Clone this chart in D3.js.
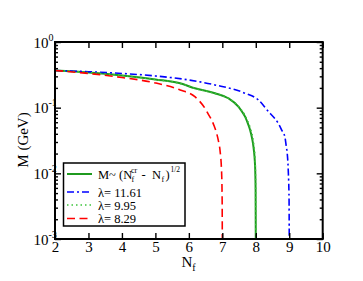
<!DOCTYPE html>
<html>
<head>
<meta charset="utf-8">
<script src="https://cdn.jsdelivr.net/npm/d3@7"></script>
<style>
	body { margin: 0; background: #fff; }
	svg text { font-family: "Liberation Serif", "DejaVu Serif", serif; fill: #000; }
</style>
</head>
<body>
<svg id="chart" width="363" height="281"></svg>
<script>
// Values: [Nf, M (GeV)]
const fitCurve = [
	[2, 0.368], [3, 0.343], [4, 0.309], [5, 0.269], [5.74, 0.235], [6.18, 0.197],
	[6.78, 0.166], [7.18, 0.139], [7.48, 0.1035], [7.58, 0.088], [7.68, 0.0729],
	[7.76, 0.058], [7.83, 0.0458], [7.885, 0.035], [7.93, 0.0255], [7.98, 0.0126],
	[7.995, 0.0056], [8, 0.001],
];
const lambda1161 = [
	[2, 0.368], [3, 0.353], [4, 0.332], [5, 0.304], [6, 0.264], [6.78, 0.222],
	[7.68, 0.166], [8.08, 0.131], [8.38, 0.087], [8.55, 0.070], [8.67, 0.058],
	[8.78, 0.045], [8.87, 0.036], [8.91, 0.026], [8.94, 0.0202], [8.97, 0.0113],
	[8.995, 0.0039], [9, 0.001],
];
const lambda995 = [
	[2, 0.368], [3, 0.343], [4, 0.309], [5, 0.268], [5.74, 0.234], [6.18, 0.197],
	[6.78, 0.165], [7.18, 0.139], [7.48, 0.105], [7.58, 0.091], [7.68, 0.076],
	[7.76, 0.062], [7.83, 0.050], [7.885, 0.040], [7.93, 0.030], [7.98, 0.016],
	[7.995, 0.007], [8, 0.001],
];
const lambda829 = [
	[2, 0.368], [3, 0.332], [4, 0.288], [5, 0.238], [5.74, 0.186], [6.18, 0.147],
	[6.48, 0.098], [6.58, 0.080], [6.68, 0.065], [6.76, 0.052], [6.83, 0.0408],
	[6.885, 0.031], [6.93, 0.0227], [6.98, 0.0100], [6.995, 0.0039], [7, 0.001],
];
const xTicks = [2, 3, 4, 5, 6, 7, 8, 9, 10];
const yDecades = [0.001, 0.01, 0.1, 1];
const yExponents = ['-3', '-2', '-1', '0'];
const legendLabels = ['', 'λ= 11.61', 'λ= 9.95', 'λ= 8.29'];

const series = [
	{ data: fitCurve, color: '#1f9a1f', width: 2, dash: null },
	{ data: lambda1161, color: '#0000ff', width: 1.6, dash: '7,3,2,3' },
	{ data: lambda995, color: '#3cc43c', width: 1.6, dash: '1.5,3' },
	{ data: lambda829, color: '#ff0000', width: 1.6, dash: '8,4.5' },
];

const pLeft = 55, pRight = 322.7, pTop = 42, pBottom = 239;
const x = d3.scaleLinear().domain([2, 10]).range([pLeft, pRight]);
const y = d3.scaleLog().domain([1e-3, 1]).range([pBottom, pTop]);

const svg = d3.select('#chart');

// Minor log ticks
const yMinor = [];
yDecades.slice(0, -1).forEach(d => {
	for (let k = 2; k <= 9; k++) yMinor.push(d * k);
});

svg.append('clipPath').attr('id', 'plotClip')
	.append('rect').attr('x', pLeft).attr('y', pTop - 1).attr('width', pRight - pLeft).attr('height', pBottom - pTop + 1);

// Curves
const line = d3.line().x(d => x(d[0])).y(d => y(d[1])).curve(d3.curveMonotoneX);
svg.append('g').attr('clip-path', 'url(#plotClip)').selectAll('path')
	.data(series).enter().append('path')
	.attr('d', d => line(d.data)).attr('fill', 'none')
	.attr('stroke', d => d.color).attr('stroke-width', d => d.width)
	.attr('stroke-dasharray', d => d.dash);

// Axes (ticks pointing inward)
const styleAxis = (sel) => {
	sel.select('.domain').remove();
	sel.selectAll('line').attr('stroke', '#000').attr('stroke-width', 1.4);
};
svg.append('g').attr('transform', `translate(0,${pBottom})`)
	.call(d3.axisBottom(x).tickValues(xTicks).tickSize(-6).tickPadding(2).tickFormat(d3.format('d')))
	.call(styleAxis)
	.selectAll('text').attr('font-size', 15).attr('font-family', '"Liberation Serif", serif');
svg.append('g').attr('transform', `translate(0,${pTop})`)
	.call(d3.axisTop(x).tickValues(xTicks).tickSize(-6).tickFormat(''))
	.call(styleAxis);
[[pLeft, d3.axisLeft], [pRight, d3.axisRight]].forEach(([pos, ax]) => {
	svg.append('g').attr('transform', `translate(${pos},0)`)
		.call(ax(y).tickValues(yDecades).tickSize(-6).tickFormat(''))
		.call(styleAxis);
	svg.append('g').attr('transform', `translate(${pos},0)`)
		.call(ax(y).tickValues(yMinor).tickSize(-3).tickFormat(''))
		.call(styleAxis);
});

// y tick labels: 10^n
svg.append('g').selectAll('text').data(yDecades).enter().append('text')
	.attr('x', 48.5).attr('y', d => y(d) + 5.5).attr('text-anchor', 'end').attr('font-size', 15)
	.text('10');
svg.append('g').selectAll('text').data(yDecades).enter().append('text')
	.attr('x', 48.5).attr('y', d => y(d) - 1.5).attr('font-size', 10)
	.text((d, i) => yExponents[i]);

// Frame
svg.append('rect').attr('x', pLeft).attr('y', pTop).attr('width', pRight - pLeft).attr('height', pBottom - pTop)
	.attr('fill', 'none').attr('stroke', '#000').attr('stroke-width', 2);

// Axis titles
const xt = svg.append('text').attr('x', 181.5).attr('y', 266.5).attr('font-size', 15);
xt.append('tspan').text('N');
xt.append('tspan').attr('font-size', 10).attr('dy', 4).text('f');

svg.append('text').attr('transform', 'translate(28,140) rotate(-90)')
	.attr('text-anchor', 'middle').attr('font-size', 15).text('M  (GeV)');

// Legend
const lg = svg.append('g');
lg.append('rect').attr('x', 63.5).attr('y', 163).attr('width', 121.5).attr('height', 63)
	.attr('fill', '#fff').attr('stroke', '#000').attr('stroke-width', 1.5);
const rowY = [174, 192, 205, 218.5];
lg.selectAll('line').data(series).enter().append('line')
	.attr('x1', 67).attr('x2', 92).attr('y1', (d, i) => rowY[i]).attr('y2', (d, i) => rowY[i])
	.attr('stroke', d => d.color).attr('stroke-width', d => d.width)
	.attr('stroke-dasharray', d => d.dash);
lg.selectAll('text.lab').data(legendLabels.slice(1)).enter().append('text').attr('class', 'lab')
	.attr('x', 98).attr('y', (d, i) => rowY[i + 1] + 4.5).attr('font-size', 12.5).text(d => d);

// first legend entry: M~ (N_f^cr - N_f)^{1/2}
const by = rowY[0] + 4.5;
const fitParts = [
	{ t: 'M~ (N', x: 98, y: by, s: 12.5 },
	{ t: 'cr', x: 131, y: by - 6, s: 8 },
	{ t: 'f', x: 131.5, y: by + 3.5, s: 8 },
	{ t: '-', x: 141.5, y: by, s: 12.5 },
	{ t: 'N', x: 152, y: by, s: 12.5 },
	{ t: 'f', x: 161.5, y: by + 3.5, s: 8 },
	{ t: ')', x: 165.5, y: by, s: 12.5 },
	{ t: '1/2', x: 170.5, y: by - 6.5, s: 7.5 },
];
lg.selectAll('text.fit').data(fitParts).enter().append('text').attr('class', 'fit')
	.attr('x', d => d.x).attr('y', d => d.y).attr('font-size', d => d.s).text(d => d.t);
</script>
</body>
</html>
